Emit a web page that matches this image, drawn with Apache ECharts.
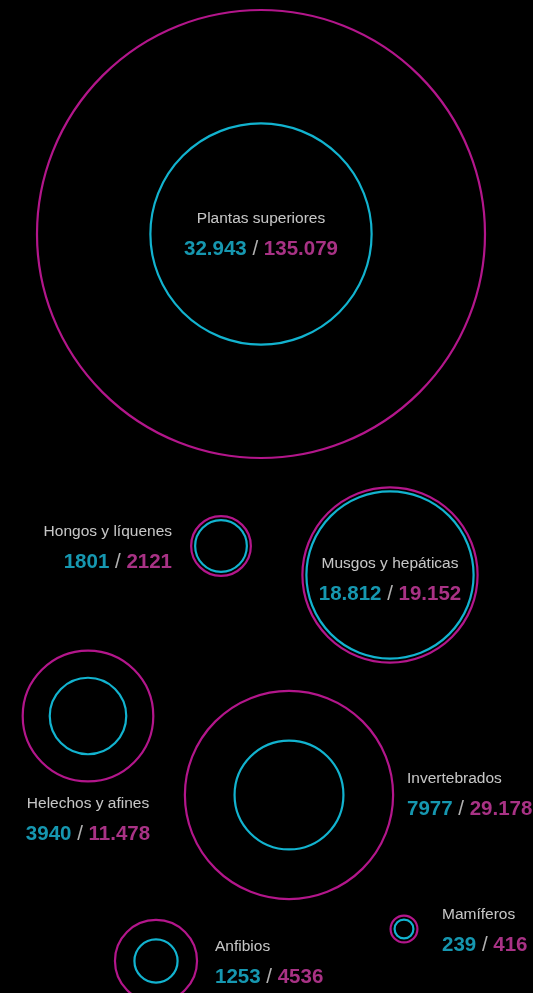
<!DOCTYPE html>
<html>
<head>
<meta charset="utf-8">
<script src="https://cdn.jsdelivr.net/npm/echarts@6/dist/echarts.min.js"></script>
<style>
html,body{margin:0;padding:0;background:#000;}
#chart{width:533px;height:993px;}
</style>
</head>
<body>
<div id="chart"></div>
<script>
// ---- data ----
var categories = ['Plantas superiores','Hongos y líquenes','Musgos y hepáticas','Helechos y afines','Invertebrados','Anfibios','Mamíferos'];
var knownValues = [32943, 1801, 18812, 3940, 7977, 1253, 239];      // cyan (inner)
var totalValues = [135079, 2121, 19152, 11478, 29178, 4536, 416];   // magenta (outer)

// ---- layout (bubble centres in page coordinates, label placement) ----
var centers = [[261,234],[221,546],[390,575],[88,716],[289,795],[156,961],[404,929]];
var labelPlace = [
  ['center', 0, 0],
  ['right', -49, 1],
  ['center', 0, 4],
  ['center', 0, 103],
  ['left', 118, -1],
  ['left', 59, 1],
  ['left', 38, 1]
];

var CYAN = '#12b3cf', MAGENTA = '#b3168b', MAG_TXT = '#d23ea6', CYAN_TXT = '#1cbddc';
var maxR = 224, maxV = Math.max.apply(null, totalValues);
function rad(v){ return maxR * Math.sqrt(v / maxV); }
function fmt(v){
  var s = String(v);
  if (v >= 10000) s = s.replace(/\B(?=(\d{3})+(?!\d))/g, '.');
  return s;
}

var outerData = categories.map(function(c,i){
  return {name:c, value:[centers[i][0], centers[i][1], totalValues[i], knownValues[i]]};
});
var innerData = categories.map(function(c,i){
  return {name:c, value:[centers[i][0], centers[i][1], knownValues[i]]};
});
var labelData = categories.map(function(c,i){
  return {
    name:c,
    value:[centers[i][0], centers[i][1]],
    label:{align:labelPlace[i][0], offset:[labelPlace[i][1], labelPlace[i][2]],
      formatter:'{n|' + c + '}\n{a|' + fmt(knownValues[i]) + '}{s| / }{b|' + fmt(totalValues[i]) + '}'}
  };
});

var FONT = '"Liberation Sans", Arial, sans-serif';
var chart = echarts.init(document.getElementById('chart'));
chart.setOption({
  backgroundColor:'#000',
  animation:false,
  grid:{left:0,right:0,top:0,bottom:0},
  xAxis:{type:'value',min:0,max:533,show:false},
  yAxis:{type:'value',min:0,max:993,inverse:true,show:false},
  series:[
    {
      type:'scatter', data:outerData, symbol:'circle',
      symbolSize:function(v){ return 2*Math.max(rad(v[2]), rad(v[3])+4); },
      itemStyle:{color:'transparent', borderColor:MAGENTA, borderWidth:2.2, opacity:1},
      emphasis:{disabled:true}, silent:true, z:2
    },
    {
      type:'scatter', data:innerData, symbol:'circle',
      symbolSize:function(v){ return 2*rad(v[2]); },
      itemStyle:{color:'transparent', borderColor:CYAN, borderWidth:2.2, opacity:1},
      emphasis:{disabled:true}, silent:true, z:3
    },
    {
      type:'scatter', data:labelData, symbolSize:0, silent:true, z:4,
      label:{
        show:true, position:'inside', verticalAlign:'middle',
        rich:{
          n:{fontFamily:FONT, fontSize:15.5, color:'#f7f7f7', lineHeight:30},
          a:{fontFamily:FONT, fontSize:20.5, fontWeight:'bold', color:CYAN_TXT, lineHeight:30},
          s:{fontFamily:FONT, fontSize:20.5, color:'#dddddd', lineHeight:30},
          b:{fontFamily:FONT, fontSize:20.5, fontWeight:'bold', color:MAG_TXT, lineHeight:30}
        }
      }
    }
  ]
});
</script>
</body>
</html>
